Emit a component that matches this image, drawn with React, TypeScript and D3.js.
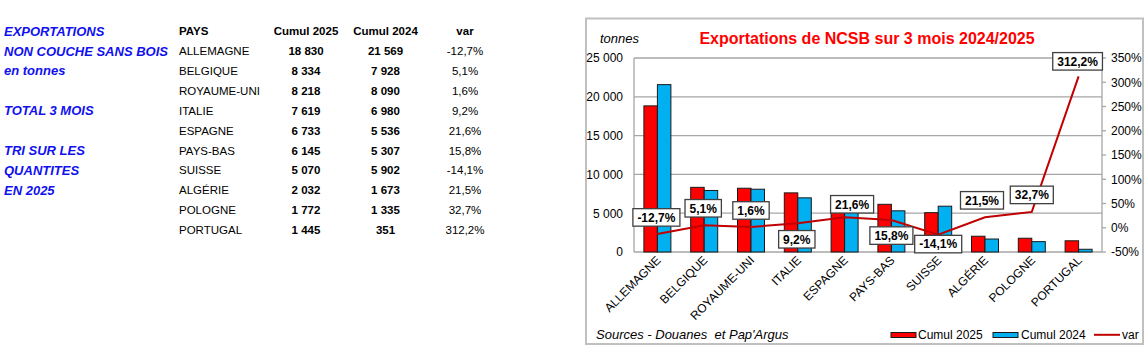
import React from "react";
import * as d3 from "d3";

const countries = ["ALLEMAGNE", "BELGIQUE", "ROYAUME-UNI", "ITALIE", "ESPAGNE", "PAYS-BAS", "SUISSE", "ALGÉRIE", "POLOGNE", "PORTUGAL"];
const cumul2025 = [18830, 8334, 8218, 7619, 6733, 6145, 5070, 2032, 1772, 1445];
const cumul2024 = [21569, 7928, 8090, 6980, 5536, 5307, 5902, 1673, 1335, 351];
const variation = [-12.7, 5.1, 1.6, 9.2, 21.6, 15.8, -14.1, 21.5, 32.7, 312.2];
const leftTicks = [0, 5000, 10000, 15000, 20000, 25000];
const rightTicks = [-50, 0, 50, 100, 150, 200, 250, 300, 350];
// label box offsets (px) relative to each line point
const labelDx = [-1, -1, 0, -1, 7.5, 0, 0, -3, 0, -1];
const labelDy = [-16.5, -17, -16.5, 16, -13, 15.5, 9.5, -17, -17, -15];
const sideNotes: [number, string][] = [
  [0, "EXPORTATIONS"],
  [1, "NON COUCHE SANS BOIS"],
  [2, "en tonnes"],
  [4, "TOTAL 3 MOIS"],
  [6, "TRI SUR LES"],
  [7, "QUANTITES"],
  [8, "EN 2025"],
];

const FONT = "'Liberation Sans', Arial, Helvetica, sans-serif";
const fmtN = (v: number) => d3.format(",")(v).replace(/,/g, " ");
const fmtP = (v: number) => v.toFixed(1).replace(".", ",") + "%";

let ctx: CanvasRenderingContext2D | null = null;
function textW(s: string, font: string) {
  if (!ctx) ctx = document.createElement("canvas").getContext("2d");
  if (!ctx) return s.length * 7;
  ctx.font = font;
  return ctx.measureText(s).width;
}

export default function App() {
  const x0 = 634, x1 = 1102, yTop = 58, yBot = 252;
  const xBand = d3.scaleBand<string>().domain(countries).range([x0, x1]).paddingInner(0).paddingOuter(0);
  const bw = 13.5;
  const yL = d3.scaleLinear().domain([0, 25000]).range([yBot, yTop]);
  const yR = d3.scaleLinear().domain([-50, 350]).range([yBot, yTop]);
  const cx = (c: string) => (xBand(c) as number) + xBand.bandwidth() / 2;
  const line = d3.line<number>().x((_, i) => cx(countries[i])).y((v) => yR(v));

  const rowY = (r: number) => 31 + r * 19.9;

  return (
    <svg width={1146} height={360} style={{ position: "absolute", left: 0, top: 0, background: "#fff" }} fontFamily={FONT}>
      {/* Left table */}
      {sideNotes.map(([r, t]) => (
        <text key={t} x={4} y={rowY(r)} dy="0.36em" fontSize={13} fontWeight="bold" fontStyle="italic" fill="#1010f0">{t}</text>
      ))}
      <text x={179} y={rowY(0)} dy="0.36em" fontSize={11.5} fontWeight="bold">PAYS</text>
      <text x={306} y={rowY(0)} dy="0.36em" fontSize={11.5} fontWeight="bold" textAnchor="middle">Cumul 2025</text>
      <text x={385.5} y={rowY(0)} dy="0.36em" fontSize={11.5} fontWeight="bold" textAnchor="middle">Cumul 2024</text>
      <text x={465} y={rowY(0)} dy="0.36em" fontSize={11.5} fontWeight="bold" textAnchor="middle">var</text>
      {countries.map((c, i) => (
        <g key={c}>
          <text x={179} y={rowY(i + 1)} dy="0.36em" fontSize={11.5}>{c}</text>
          <text x={306} y={rowY(i + 1)} dy="0.36em" fontSize={11.5} fontWeight="bold" textAnchor="middle">{fmtN(cumul2025[i])}</text>
          <text x={385.5} y={rowY(i + 1)} dy="0.36em" fontSize={11.5} fontWeight="bold" textAnchor="middle">{fmtN(cumul2024[i])}</text>
          <text x={465} y={rowY(i + 1)} dy="0.36em" fontSize={11.5} textAnchor="middle">{fmtP(variation[i])}</text>
        </g>
      ))}

      {/* Chart frame */}
      <rect x={586} y={18.5} width={557} height={325.5} fill="#fff" stroke="#c0c0c0" strokeWidth={2} />
      <text x={867} y={44} fontSize={16} fontWeight="bold" fill="#ff0000" textAnchor="middle">Exportations de NCSB sur 3 mois 2024/2025</text>
      <text x={600} y={43} fontSize={13} fontStyle="italic">tonnes</text>

      {/* gridlines */}
      {leftTicks.map((t) => (
        <line key={t} x1={x0} x2={x1} y1={yL(t)} y2={yL(t)} stroke="#a6a6a6" strokeWidth={1.3} />
      ))}
      <line x1={x0} x2={x0} y1={yTop} y2={yBot} stroke="#a6a6a6" strokeWidth={1.3} />
      <line x1={x1} x2={x1} y1={yTop} y2={yBot} stroke="#a6a6a6" strokeWidth={1.3} />
      {rightTicks.map((t) => (
        <line key={t} x1={x1} x2={x1 + 4} y1={yR(t)} y2={yR(t)} stroke="#a6a6a6" strokeWidth={1.3} />
      ))}
      {leftTicks.map((t) => (
        <text key={t} x={623} y={yL(t)} dy="0.36em" fontSize={12} textAnchor="end">{fmtN(t)}</text>
      ))}
      {rightTicks.map((t) => (
        <text key={t} x={1111} y={yR(t)} dy="0.36em" fontSize={12}>{t}%</text>
      ))}

      {/* bars */}
      {countries.map((c, i) => (
        <g key={c}>
          <rect x={cx(c) - bw} y={yL(cumul2025[i])} width={bw} height={yBot - yL(cumul2025[i])} fill="#ff0000" stroke="#1a1a1a" strokeWidth={1} />
          <rect x={cx(c)} y={yL(cumul2024[i])} width={bw} height={yBot - yL(cumul2024[i])} fill="#00b0f0" stroke="#1a1a1a" strokeWidth={1} />
        </g>
      ))}

      {/* var line */}
      <path d={line(variation) || ""} fill="none" stroke="#c00000" strokeWidth={2} />

      {/* data labels */}
      {countries.map((c, i) => {
        const s = fmtP(variation[i]);
        const w = textW(s, `bold 12px ${FONT}`) + 9;
        const lx = cx(c) + labelDx[i];
        const ly = yR(variation[i]) + labelDy[i];
        return (
          <g key={c}>
            <rect x={lx - w / 2} y={ly - 8.75} width={w} height={17.5} fill="#fff" stroke="#404040" strokeWidth={1.3} />
            <text x={lx} y={ly} dy="0.36em" fontSize={12} fontWeight="bold" textAnchor="middle">{s}</text>
          </g>
        );
      })}

      {/* category labels */}
      {countries.map((c) => (
        <text key={c} transform={`translate(${cx(c) + 4},${yBot + 9}) rotate(-45)`} fontSize={12} textAnchor="end">{c}</text>
      ))}

      {/* footer */}
      <text x={596} y={339} fontSize={13} fontStyle="italic" style={{ whiteSpace: "pre" }}>{"Sources - Douanes  et Pap'Argus"}</text>
      <rect x={891} y={332.5} width={25} height={5} fill="#ff0000" stroke="#1a1a1a" strokeWidth={1} />
      <text x={918} y={338.5} fontSize={12}>Cumul 2025</text>
      <rect x={993} y={332.5} width={25} height={5} fill="#00b0f0" stroke="#1a1a1a" strokeWidth={1} />
      <text x={1021} y={338.5} fontSize={12}>Cumul 2024</text>
      <line x1={1094} x2={1120} y1={334.8} y2={334.8} stroke="#c00000" strokeWidth={2} />
      <text x={1122} y={338.5} fontSize={12}>var</text>
    </svg>
  );
}
